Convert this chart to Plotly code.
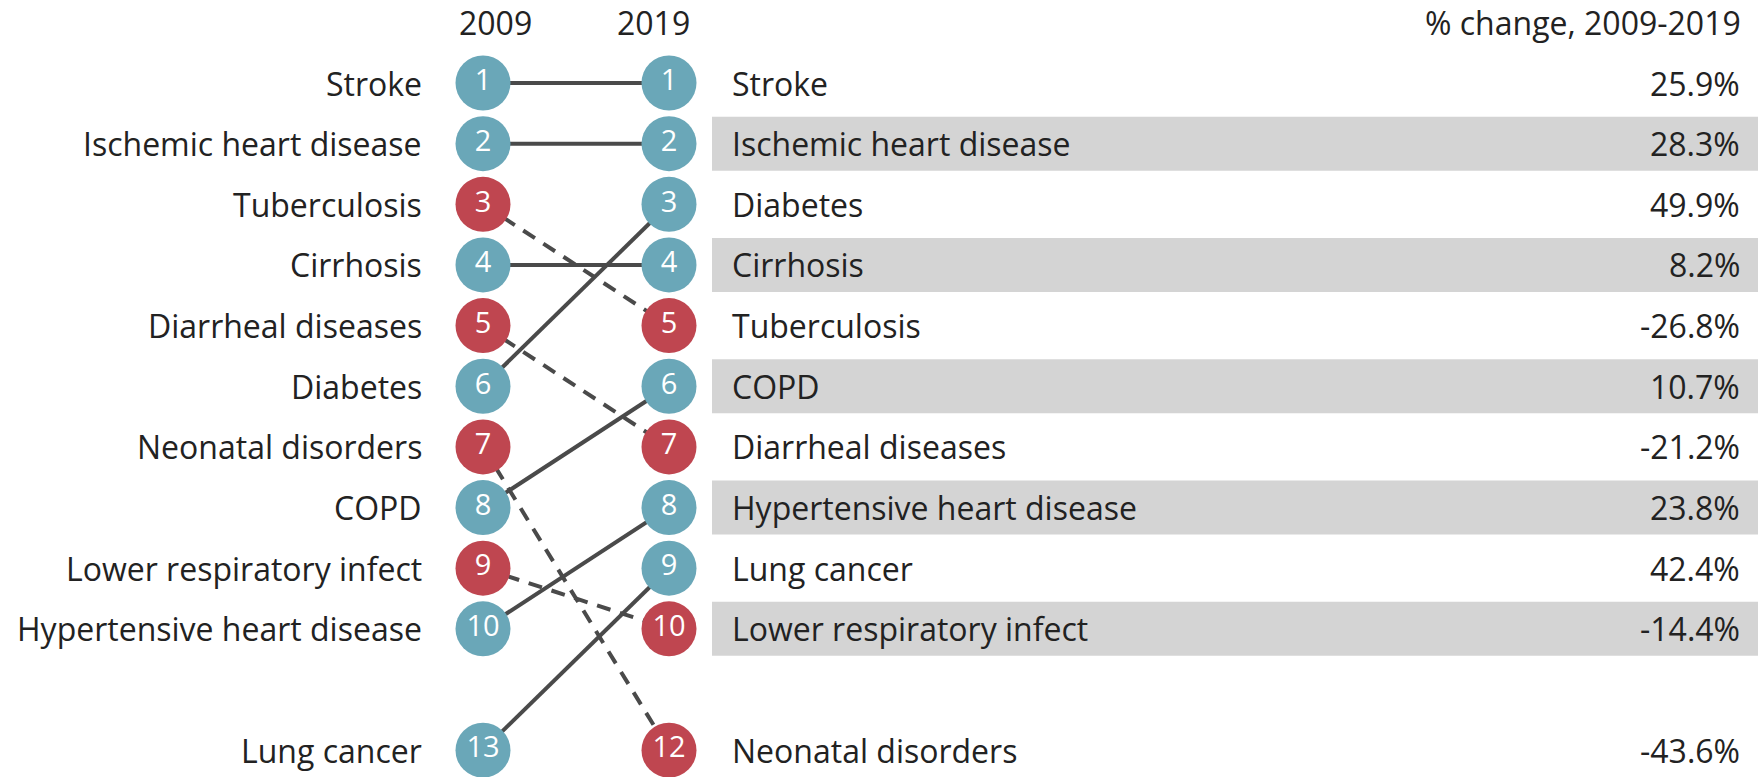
import plotly.graph_objects as go

# ---- data ----
causes = ["Stroke", "Ischemic heart disease", "Tuberculosis", "Cirrhosis",
          "Diarrheal diseases", "Diabetes", "Neonatal disorders", "COPD",
          "Lower respiratory infect", "Hypertensive heart disease", "Lung cancer"]
rank_2009 = [1, 2, 3, 4, 5, 6, 7, 8, 9, 10, 13]
rank_2019 = [1, 2, 5, 4, 7, 3, 12, 6, 10, 8, 9]
pct_change = [25.9, 28.3, -26.8, 8.2, -21.2, 49.9, -43.6, 10.7, -14.4, 23.8, 42.4]
years = ["2009", "2019"]
header_change = "% change, 2009-2019"

# ---- style ----
W, H = 1760, 777
TEAL = "#6aa7b8"
RED = "#bf4650"
LINE = "#4a4a4a"
BAND = "#d4d4d4"
TXT = "#222222"
FONT = "Open Sans"
FS = 32

# display slot: ranks above 10 are shown on slot 12 after a gap
def slot(r):
    return r if r <= 10 else 12

# pixel layout helpers
Y0_PX, ROW_PX = 83, 60.65     # slot 1 centre, row spacing
X0_PX, X1_PX = 483, 669       # 2009 and 2019 column centres
x_unit = X1_PX - X0_PX
x_range = [-X0_PX / x_unit, 1 + (W - X1_PX) / x_unit]
y_range = [1 + (H - Y0_PX) / ROW_PX, 1 - Y0_PX / ROW_PX]

def px(x):
    return x / W

fig = go.Figure()

# connecting lines
for c, r0, r1 in zip(causes, rank_2009, rank_2019):
    worse = r1 > r0
    fig.add_trace(go.Scatter(
        x=[0, 1], y=[slot(r0), slot(r1)], mode="lines",
        line=dict(color=LINE, width=4, dash="14px,10px" if worse else "solid"),
        hoverinfo="skip", showlegend=False))

# circles
colors = [RED if r1 > r0 else TEAL for r0, r1 in zip(rank_2009, rank_2019)]
for xi, ranks in [(0, rank_2009), (1, rank_2019)]:
    fig.add_trace(go.Scatter(
        x=[xi] * len(ranks), y=[slot(r) for r in ranks],
        mode="markers+text",
        marker=dict(size=55, color=colors, line=dict(width=0)),
        text=[str(r) for r in ranks], textposition="middle center",
        textfont=dict(family=FONT, size=29, color="white"),
        hovertext=causes, showlegend=False))

annotations = []
shapes = []

# left labels (2009 order)
for c, r0 in zip(causes, rank_2009):
    annotations.append(dict(x=px(424), y=slot(r0), xref="paper", yref="y",
                            text=c, showarrow=False, xanchor="right",
                            yanchor="middle",
                            font=dict(family=FONT, size=FS, color=TXT)))

# right table (2019 order)
order = sorted(range(len(causes)), key=lambda i: rank_2019[i])
for k, i in enumerate(order):
    s = slot(rank_2019[i])
    if k % 2 == 1:
        shapes.append(dict(type="rect", xref="paper", yref="y",
                           x0=px(712), x1=px(1758), y0=s - 0.445, y1=s + 0.445,
                           fillcolor=BAND, line=dict(width=0), layer="below"))
    annotations.append(dict(x=px(730), y=s, xref="paper", yref="y",
                            text=causes[i], showarrow=False, xanchor="left",
                            yanchor="middle",
                            font=dict(family=FONT, size=FS, color=TXT)))
    annotations.append(dict(x=px(1742), y=s, xref="paper", yref="y",
                            text=f"{pct_change[i]:.1f}%", showarrow=False,
                            xanchor="right", yanchor="middle",
                            font=dict(family=FONT, size=FS, color=TXT)))

# headers (box kept inside the figure)
for yr, xc in zip(years, [496, 653]):
    annotations.append(dict(x=px(xc), y=1, xref="paper", yref="paper",
                            text=yr, showarrow=False, xanchor="center",
                            yanchor="top", borderpad=0,
                            font=dict(family=FONT, size=FS, color=TXT)))
annotations.append(dict(x=px(1742), y=1, xref="paper", yref="paper",
                        text=header_change, showarrow=False, xanchor="right",
                        yanchor="top", borderpad=0,
                        font=dict(family=FONT, size=FS, color=TXT)))

fig.update_layout(
    width=W, height=H, margin=dict(l=0, r=0, t=0, b=0),
    paper_bgcolor="white", plot_bgcolor="white",
    xaxis=dict(range=x_range, visible=False, fixedrange=True),
    yaxis=dict(range=y_range, visible=False, fixedrange=True),
    annotations=annotations, shapes=shapes,
)

fig.write_html("out.html",
               config={"displayModeBar": False},
               post_script="document.body.style.margin='0';"
                           "document.body.style.overflow='hidden';")
